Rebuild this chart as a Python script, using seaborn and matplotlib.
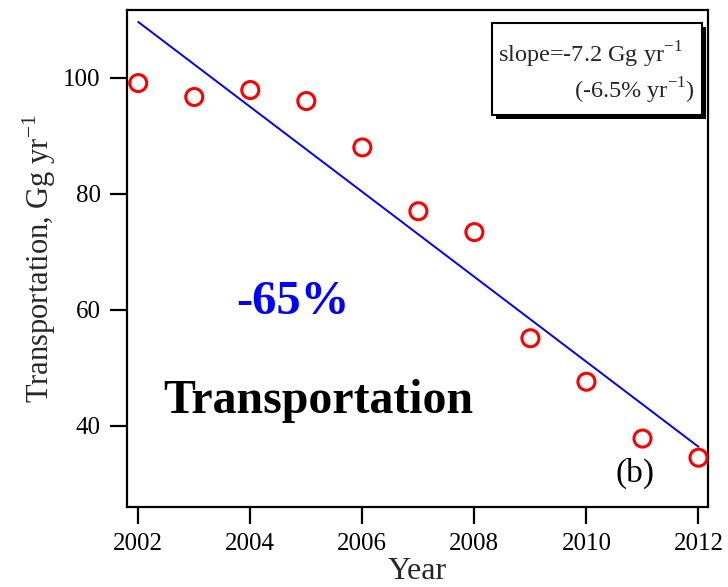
import matplotlib
matplotlib.use("Agg")
import matplotlib.pyplot as plt
import matplotlib.patheffects as pe
from matplotlib.patches import Rectangle
import pandas as pd
import seaborn as sns

years = [2002, 2003, 2004, 2005, 2006, 2007, 2008, 2009, 2010, 2011, 2012]
emissions = [99.1, 96.7, 97.9, 96.0, 88.0, 77.0, 73.4, 55.1, 47.6, 37.8, 34.5]
x_ticks = [2002, 2004, 2006, 2008, 2010, 2012]
y_ticks = [40, 60, 80, 100]

df = pd.DataFrame({"Year": years, "Emission": emissions})

sns.set_theme(style="ticks")
plt.rcParams["font.family"] = ["Liberation Serif", "DejaVu Serif"]
plt.rcParams["mathtext.fontset"] = "custom"
plt.rcParams["mathtext.rm"] = "Liberation Serif"

fig = plt.figure(figsize=(7.28, 5.87), dpi=100)
ax = fig.add_axes([127 / 728, 1 - 507 / 587, (708 - 127) / 728, (507 - 10) / 587])

# least-squares trend line and the yearly values
sns.regplot(data=df, x="Year", y="Emission", scatter=False, ci=None,
            color="#0000ff", line_kws={"linewidth": 1.4}, ax=ax)
sns.scatterplot(data=df, x="Year", y="Emission", ax=ax, marker="o",
                s=150, facecolor="none", edgecolor="#ff0000", linewidth=2.2,
                zorder=3, clip_on=False)

ax.set_xlim(2001.8, 2012.17)
ax.set_ylim(26.0, 111.7)
ax.set_xticks(x_ticks)
ax.set_yticks(y_ticks)
ax.tick_params(direction="out", length=12, width=1.6, labelsize=18, pad=7,
               colors="black")
for s in ax.spines.values():
    s.set_visible(True)
    s.set_linewidth(1.6)
    s.set_color("black")

ax.set_xlabel("Year", fontsize=23, labelpad=1)
ax.set_ylabel(r"Transportation, Gg yr$^{\mathregular{-1}}$", fontsize=22, labelpad=4)

ax.text(0.286, 0.412, "-65%", transform=ax.transAxes, color="#0000ff",
        fontsize=35, fontweight="bold", ha="center", va="center")
ax.text(0.330, 0.189, "Transportation", transform=ax.transAxes, color="black",
        fontsize=34.5, fontweight="bold", ha="center", va="baseline")
ax.text(0.874, 0.068, "(b)", transform=ax.transAxes, color="black",
        fontsize=24, ha="center", va="center")

# slope annotation box with a drop shadow
box = Rectangle((0.628, 0.789), 0.990 - 0.628, 0.974 - 0.789,
                transform=ax.transAxes, facecolor="white", edgecolor="black",
                linewidth=1.5, zorder=4,
                path_effects=[pe.withSimplePatchShadow(offset=(3, -3),
                                                       shadow_rgbFace="black",
                                                       alpha=1.0)])
ax.add_patch(box)
ax.text(0.957, 0.895, "slope=-7.2 Gg yr$^{\\mathregular{-1}}$",
        transform=ax.transAxes, fontsize=17.5, ha="right", va="baseline",
        zorder=5)
ax.text(0.978, 0.821, "(-6.5% yr$^{\\mathregular{-1}}$)",
        transform=ax.transAxes, fontsize=17.5, ha="right", va="baseline",
        zorder=5)

fig.savefig("out.png", dpi=100)
